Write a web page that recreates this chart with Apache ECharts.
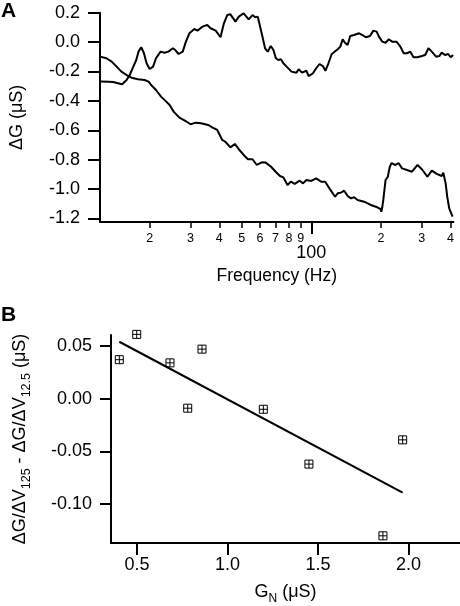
<!DOCTYPE html>
<html><head><meta charset="utf-8">
<script src="https://cdn.jsdelivr.net/npm/echarts@6/dist/echarts.min.js"></script>
<style>html,body{margin:0;padding:0;background:#fff}#c{width:460px;height:606px}</style>
</head><body><div id="c"></div>
<script>
// Panel A: frequency (Hz) and ΔG (µS)
const freqUpper = [12.2,13.3,13.9,14.6,15.2,15.9,16.4,17.0,17.5,17.9,18.4,18.9,19.4,20.0,20.7,21.3,22.3,23.2,24.1,25.2,25.8,26.7,27.8,28.7,29.7,31.2,32.2,33.8,35.5,36.7,38.6,40.5,41.9,43.3,44.7,47.0,48.6,51.0,53.6,55.7,57.2,58.7,60.1,61.5,63.1,64.8,66.8,68.6,70.3,72.0,73.9,75.7,78.2,82.1,86.3,88.2,91.2,95.2,97.4,101.7,105,108.5,112.2,115.1,118.6,122.6,130.1,133.5,136.7,139.8,143.6,147.3,153.2,161.0,166.5,172.0,179.4,185.5,191.7,196.1,202.7,209.5,216.4,223.7,233.4,242.8,250.9,259.4,268.0,276.8,288.0,300.7,310.7,321.0,331.9,346.3,357.7,366.3,378.4,390.9,400.2,410.6];
const dGUpper = [-0.268,-0.270,-0.272,-0.280,-0.287,-0.258,-0.224,-0.167,-0.122,-0.065,-0.035,-0.076,-0.144,-0.183,-0.167,-0.110,-0.065,-0.072,-0.065,-0.042,-0.054,-0.081,-0.065,0.003,0.060,0.089,0.078,0.105,0.116,0.094,0.078,0.033,0.128,0.184,0.189,0.139,0.173,0.196,0.155,0.184,0.169,0.173,0.105,0.037,-0.042,-0.065,-0.027,-0.054,-0.110,-0.122,-0.117,-0.144,-0.167,-0.201,-0.208,-0.185,-0.208,-0.195,-0.231,-0.212,-0.178,-0.149,-0.163,-0.195,-0.144,-0.081,-0.049,-0.031,0.019,-0.004,-0.020,0.041,0.048,0.060,0.048,0.033,0.041,0.078,0.071,0.037,0.003,-0.004,0.019,0.003,0.003,-0.031,-0.076,-0.076,-0.065,-0.103,-0.103,-0.095,-0.088,-0.042,-0.065,-0.099,-0.095,-0.072,-0.088,-0.081,-0.103,-0.088];
const freqLower = [12.2,13.0,13.7,14.4,15.1,15.9,16.7,17.8,19.0,19.8,20.3,21.3,22.4,23.6,24.4,25.4,26.9,28.4,30.1,31.7,33.3,34.4,35.8,37.3,39.2,41.2,42.5,44.7,46.7,48.6,51.0,53.2,55.7,58.1,61.1,63.5,67.0,70.1,73.2,75.7,78.9,81.5,84.8,89.1,92.1,95.2,100,105,110.4,114.8,119.8,126.7,130.1,134.4,138.8,143.6,148.3,153.2,158.5,169.1,180.7,193.0,199.4,200.8,202.7,204.8,209.5,214.2,218.5,222.2,231.1,238.8,246.9,259.4,272.5,288.0,300.7,317.8,331.9,348.7,366.3,372.1,381.0,387.1,394.8,401.4,408.2];
const dGLower = [-0.099,-0.110,-0.133,-0.167,-0.201,-0.224,-0.242,-0.253,-0.258,-0.269,-0.292,-0.326,-0.371,-0.405,-0.428,-0.473,-0.514,-0.535,-0.559,-0.548,-0.552,-0.557,-0.564,-0.580,-0.598,-0.666,-0.678,-0.716,-0.693,-0.729,-0.768,-0.797,-0.797,-0.836,-0.818,-0.820,-0.848,-0.882,-0.911,-0.920,-0.972,-0.950,-0.965,-0.943,-0.961,-0.938,-0.945,-0.927,-0.950,-0.950,-0.995,-1.052,-1.029,-1.024,-1.011,-1.047,-1.063,-1.056,-1.074,-1.086,-1.108,-1.124,-1.137,-1.154,-1.124,-1.074,-0.938,-0.916,-0.848,-0.824,-0.836,-0.824,-0.859,-0.870,-0.882,-0.836,-0.865,-0.916,-0.875,-0.897,-0.911,-0.888,-0.961,-1.052,-1.131,-1.142,-1.188];
const freqTicksMinor = [20,30,40,50,60,70,80,90,200,300,400];
const freqTicksMajor = [100];
const dGTicks = [0.2,0.0,-0.2,-0.4,-0.6,-0.8,-1.0,-1.2];

// Panel B
const gN = [0.402,0.498,0.682,0.859,0.780,1.198,1.450,1.968,1.859];
const diffVals = [0.037,0.061,0.034,0.047,-0.009,-0.010,-0.062,-0.039,-0.130];
const fitGN = [0.402,1.968];
const fitDiff = [0.054,-0.089];
const gNTicks = [0.5,1.0,1.5,2.0];
const diffTicks = [0.05,0.00,-0.05,-0.10];

const FONT = "'Liberation Sans', Arial, Helvetica, sans-serif";
const BLK = '#000';
const axLine = {show:true, onZero:false, lineStyle:{color:BLK, width:2}};
const tickStyle = {color:BLK, width:2};

const chart = echarts.init(document.getElementById('c'), null, {renderer:'canvas'});
const firstDigit = v => String(Math.round(v / Math.pow(10, Math.floor(Math.log10(v) + 1e-9))));

chart.setOption({
  animation:false,
  backgroundColor:'#fff',
  graphic:[
    {type:'text', left:1, top:1, style:{text:'A', font:'bold 21px '+FONT, fill:BLK}},
    {type:'text', left:1, top:305, style:{text:'B', font:'bold 21px '+FONT, fill:BLK}}
  ],
  grid:[
    {left:97, top:12.7, width:356.5, height:209.3},
    {left:111, top:335, width:349, height:209}
  ],
  xAxis:[
    {gridIndex:0, type:'log', logBase:10, min:12.2, max:412, position:'bottom',
     axisLine:axLine,
     axisTick:{show:true, inside:false, length:6, lineStyle:{color:BLK,width:1.5}, customValues:freqTicksMinor},
     axisLabel:{customValues:freqTicksMinor, formatter:firstDigit, fontSize:12.5, margin:10, color:BLK, fontFamily:FONT},
     splitLine:{show:false}, minorTick:{show:false}},
    {gridIndex:0, type:'log', logBase:10, min:12.2, max:412, position:'bottom',
     axisLine:{show:false, onZero:false},
     axisTick:{show:true, inside:false, length:12, lineStyle:tickStyle, customValues:freqTicksMajor},
     axisLabel:{customValues:freqTicksMajor, formatter:v=>String(Math.round(v)), fontSize:18, margin:22, color:BLK, fontFamily:FONT},
     splitLine:{show:false},
     name:'Frequency (Hz)', nameLocation:'middle', nameGap:45,
     nameTextStyle:{fontSize:17.5, color:BLK, fontFamily:FONT}},
    {gridIndex:1, type:'value', min:0.356, max:2.285, position:'bottom',
     axisLine:axLine,
     axisTick:{show:true, inside:false, length:12, lineStyle:tickStyle, customValues:gNTicks},
     axisLabel:{customValues:gNTicks, formatter:v=>v.toFixed(1), fontSize:18, margin:13, color:BLK, fontFamily:FONT},
     splitLine:{show:false},
     name:'{a|G}{s|N}{a| (μS)}', nameLocation:'middle', nameGap:36,
     nameTextStyle:{color:BLK, fontFamily:FONT, rich:{
       a:{fontSize:18, lineHeight:26, color:BLK, fontFamily:FONT},
       s:{fontSize:12, lineHeight:12, verticalAlign:'bottom', color:BLK, fontFamily:FONT}}}}
  ],
  yAxis:[
    {gridIndex:0, type:'value', min:-1.224, max:0.2,
     axisLine:axLine,
     axisTick:{show:true, inside:false, length:12, lineStyle:tickStyle, customValues:dGTicks},
     axisLabel:{customValues:dGTicks, formatter:v=>v.toFixed(1), fontSize:18, margin:20, color:BLK, fontFamily:FONT},
     splitLine:{show:false},
     name:'ΔG (μS)', nameLocation:'middle', nameRotate:90, nameGap:74,
     nameTextStyle:{fontSize:18, color:BLK, fontFamily:FONT}},
    {gridIndex:1, type:'value', min:-0.1368, max:0.0604,
     axisLine:axLine,
     axisTick:{show:true, inside:false, length:11, lineStyle:tickStyle, customValues:diffTicks},
     axisLabel:{customValues:diffTicks, formatter:v=>v.toFixed(2), fontSize:18, margin:19, color:BLK, fontFamily:FONT},
     splitLine:{show:false},
     name:'{a|ΔG/ΔV}{s|125}{a| - ΔG/ΔV}{s|12.5}{a| (μS)}', nameLocation:'middle', nameRotate:90, nameGap:78,
     nameTextStyle:{color:BLK, fontFamily:FONT, rich:{
       a:{fontSize:18, lineHeight:26, color:BLK, fontFamily:FONT},
       s:{fontSize:12.5, lineHeight:12, verticalAlign:'bottom', color:BLK, fontFamily:FONT}}}}
  ],
  series:[
    {type:'line', xAxisIndex:0, yAxisIndex:0, showSymbol:false, symbol:'none',
     lineStyle:{color:BLK, width:2}, data:freqUpper.map((f,i)=>[f,dGUpper[i]])},
    {type:'line', xAxisIndex:0, yAxisIndex:0, showSymbol:false, symbol:'none',
     lineStyle:{color:BLK, width:2}, data:freqLower.map((f,i)=>[f,dGLower[i]])},
    {type:'line', xAxisIndex:2, yAxisIndex:1, showSymbol:false, symbol:'none',
     lineStyle:{color:BLK, width:2}, data:fitGN.map((g,i)=>[g,fitDiff[i]])},
    {type:'scatter', xAxisIndex:2, yAxisIndex:1, clip:false,
     symbol:'path://M0,0L10,0L10,10L0,10ZM5,0L5,10M0,5L10,5', symbolSize:8,
     itemStyle:{color:'#fff', borderColor:BLK, borderWidth:1, opacity:1},
     data:gN.map((g,i)=>[g,diffVals[i]])}
  ]
});
</script>
</body></html>
